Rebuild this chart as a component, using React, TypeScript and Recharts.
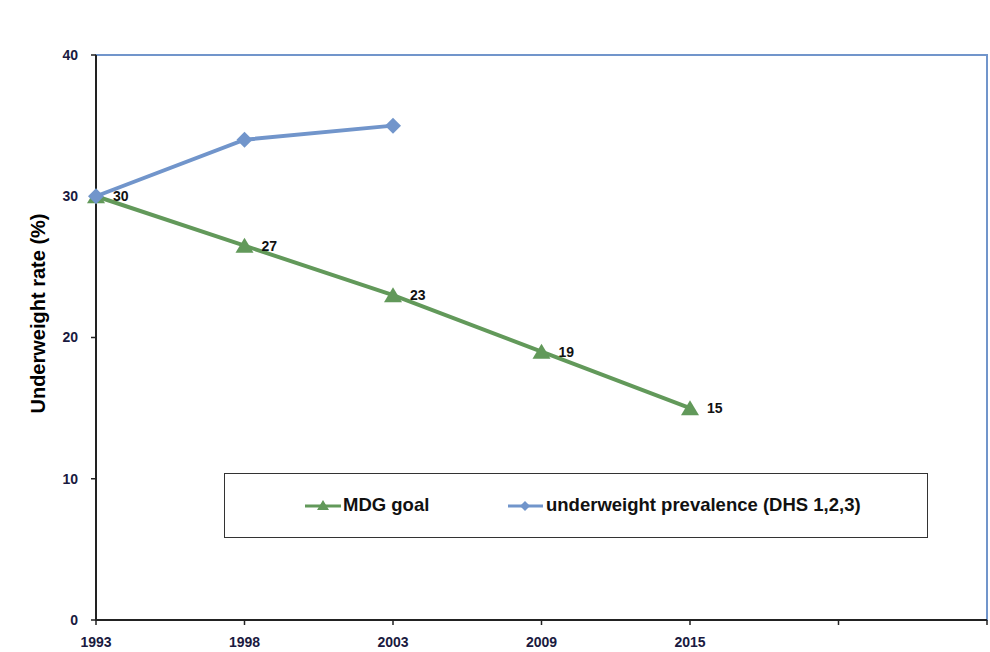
import React from 'react';
import {
  LineChart,
  Line,
  XAxis,
  YAxis,
  Legend,
  LabelList,
  ReferenceArea,
} from 'recharts';

// category labels (last two slots are empty in the original)
const years = ['1993', '1998', '2003', '2009', '2015', '', ''];
const mdgGoal = [30, 26.5, 23, 19, 15, null, null];
const prevalence = [30, 34, 35, null, null, null, null];
const yTicks = [0, 10, 20, 30, 40];

const GREEN = '#62995a';
const BLUE = '#7195cb';
const FONT = "'Liberation Sans', Arial, sans-serif";

const data = years.map((year, i) => ({
  year,
  mdg: mdgGoal[i],
  dhs: prevalence[i],
}));

const Triangle = (props: any) => {
  const { cx, cy, key } = props;
  if (cx == null || cy == null || props.value == null) return <g key={key} />;
  return (
    <polygon
      key={key}
      points={`${cx},${cy - 8} ${cx - 9},${cy + 7} ${cx + 9},${cy + 7}`}
      fill={GREEN}
    />
  );
};

const Diamond = (props: any) => {
  const { cx, cy, key } = props;
  if (cx == null || cy == null || props.value == null) return <g key={key} />;
  return (
    <polygon
      key={key}
      points={`${cx},${cy - 8} ${cx + 8},${cy} ${cx},${cy + 8} ${cx - 8},${cy}`}
      fill={BLUE}
    />
  );
};

const renderValue = (props: any) => {
  const { x, y, value } = props;
  if (value == null) return null;
  return (
    <text x={x + 17} y={y + 5} fontSize={14} fontWeight="bold" fill="#111" fontFamily={FONT}>
      {Math.round(value)}
    </text>
  );
};

const renderLegend = () => (
  <div
    style={{
      position: 'relative',
      width: 702,
      height: 63,
      border: '1.5px solid #333',
      background: '#fff',
      fontFamily: FONT,
      fontSize: 18.5,
      fontWeight: 'bold',
      color: '#111',
      lineHeight: '22px',
    }}
  >
    <svg width={702} height={63} style={{ position: 'absolute', left: 0, top: 0 }}>
      <line x1={80} y1={32} x2={116} y2={32} stroke={GREEN} strokeWidth={3} />
      <polygon points="98,26 92,36 104,36" fill={GREEN} />
      <line x1={283} y1={32} x2={318} y2={32} stroke={BLUE} strokeWidth={3} />
      <polygon points="300,27 305,32 300,37 295,32" fill={BLUE} />
    </svg>
    <span style={{ position: 'absolute', left: 118, top: 20, whiteSpace: 'nowrap' }}>MDG goal</span>
    <span style={{ position: 'absolute', left: 321, top: 20, whiteSpace: 'nowrap' }}>
      underweight prevalence (DHS 1,2,3)
    </span>
  </div>
);

export default function App() {
  return (
    <div style={{ position: 'absolute', left: 0, top: 0, width: 990, height: 652, background: '#fff' }}>
      <LineChart
        width={990}
        height={652}
        data={data}
        margin={{ top: 55, right: 3, left: 0, bottom: 0 }}
      >
        <ReferenceArea y1={0} y2={40} fill="none" stroke={BLUE} strokeWidth={2} ifOverflow="visible" />
        <XAxis
          dataKey="year"
          height={32}
          stroke="#222"
          strokeWidth={2}
          tickSize={5}
          tickMargin={12}
          tickLine={{ stroke: '#222', strokeWidth: 1.5 }}
          tick={{ fontSize: 14, fontWeight: 'bold', fill: '#1a1a40', fontFamily: FONT }}
          interval={0}
        />
        <YAxis
          width={96}
          domain={[0, 40]}
          ticks={yTicks}
          stroke="#222"
          strokeWidth={2}
          tickSize={5}
          tickMargin={13}
          tickLine={{ stroke: '#222', strokeWidth: 1.5 }}
          tick={{ fontSize: 14, fontWeight: 'bold', fill: '#1a1a40', fontFamily: FONT }}
          label={{
            value: 'Underweight rate (%)',
            angle: -90,
            position: 'insideLeft',
            offset: 0,
            dx: 38,
            dy: -24,
            style: { fontSize: 20, fontWeight: 'bold', fill: '#000', textAnchor: 'middle', fontFamily: FONT },
          }}
        />
        <Legend
          content={renderLegend}
          layout="horizontal"
          verticalAlign="middle"
          align="center"
          wrapperStyle={{ position: 'absolute', left: 224, top: 473, width: 705, height: 66 }}
        />
        <Line
          dataKey="mdg"
          name="MDG goal"
          stroke={GREEN}
          strokeWidth={4}
          dot={<Triangle />}
          activeDot={false}
          isAnimationActive={false}
        >
          <LabelList dataKey="mdg" content={renderValue} />
        </Line>
        <Line
          dataKey="dhs"
          name="underweight prevalence (DHS 1,2,3)"
          stroke={BLUE}
          strokeWidth={4}
          dot={<Diamond />}
          activeDot={false}
          isAnimationActive={false}
        />
      </LineChart>
    </div>
  );
}
